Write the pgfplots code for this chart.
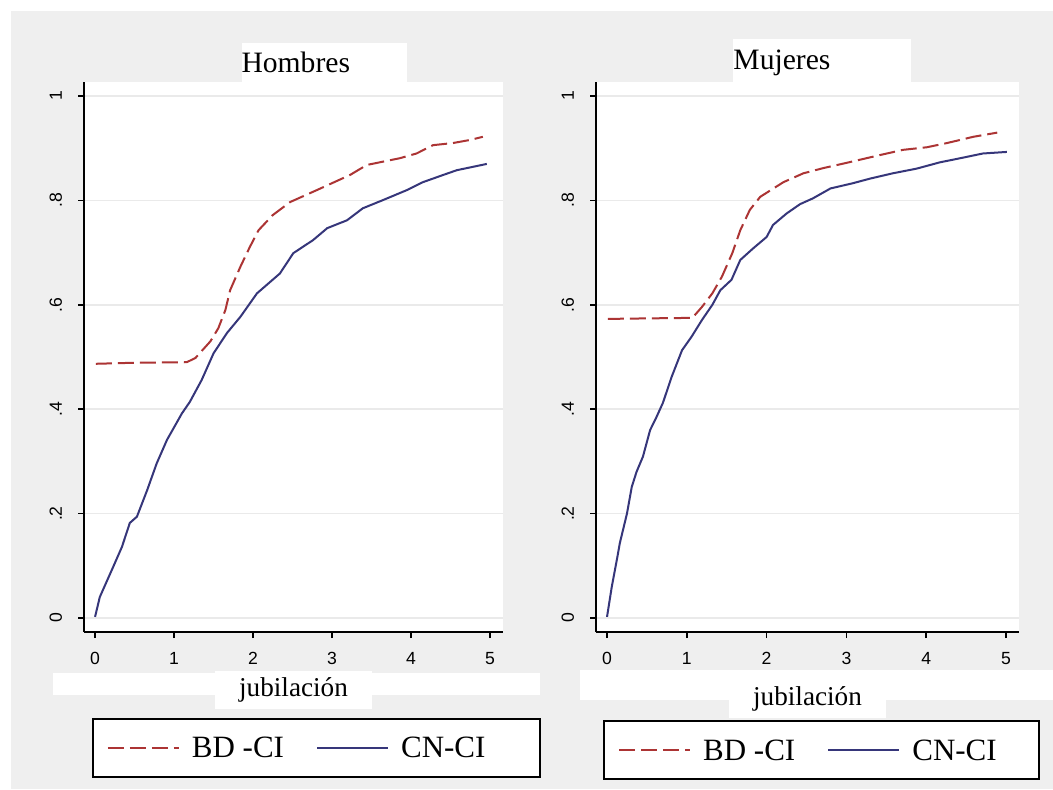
\documentclass[border=0pt]{standalone}
\usepackage{fontspec}
\setmainfont{Liberation Serif}
\setsansfont{Liberation Sans}
\usepackage{pgfplots}
\pgfplotsset{compat=1.18}

\definecolor{bggray}{RGB}{239,239,239}
\definecolor{gridgray}{RGB}{234,234,234}
\definecolor{sred}{RGB}{172,52,52}
\definecolor{snavy}{RGB}{54,54,122}

\pgfplotsset{
  panel/.style={
    scale only axis,
    height=275pt,
    ymin=-0.027, ymax=1.027,
    axis x line*=bottom, axis y line*=left,
    axis line style={line width=1pt},
    axis background/.style={fill=white},
    xtick={0,1,2,3,4,5}, xticklabels={0,1,2,3,4,5},
    ytick={0,0.2,0.4,0.6,0.8,1}, yticklabels={0,.2,.4,.6,.8,1},
    tick align=outside, major tick length=3pt,
    tick style={black, line width=0.8pt},
    ymajorgrids, grid style={gridgray, line width=0.7pt},
    ticklabel style={font=\sffamily\fontsize{8.8}{10}\selectfont},
    y tick label style={rotate=90, anchor=south},
    yticklabel shift=4.5pt, xticklabel shift=3.5pt,
    every axis title shift=0pt,
    xlabel={jubilación},
    xlabel style={font=\fontsize{13.6}{15}\selectfont, fill=white,
      inner xsep=12pt, anchor=base},
    legend columns=2,
    legend cell align=left,
    legend image code/.code={\draw[##1, line width=1pt] (0pt,0pt) -- (35.5pt,0pt);},
    legend style={anchor=north west, draw=black, line width=1pt, fill=white,
      inner xsep=7pt, inner ysep=8.5pt,
      font=\fontsize{15.5}{17}\selectfont,
      nodes={inner sep=0pt, text height=11pt, text depth=1pt},
      /tikz/every odd column/.append style={column sep=6pt},
      /tikz/every even column/.append style={column sep=16pt}},
  },
  bd/.style={sred, line width=1pt, dash pattern=on 8pt off 3pt},
  cn/.style={snavy, line width=1pt},
}

\begin{document}
\begin{tikzpicture}
\path[use as bounding box] (0,0) rectangle (526.5pt,394.5pt);
\begin{scope}[x=0.5pt, y=-0.5pt, shift={(0pt,394.5pt)}]
  \fill[bggray] (11,11) rectangle (1053,789);
  \fill[white] (53,673) rectangle (540,695);
  \fill[white] (580,670) rectangle (1053,700);
\end{scope}

% Hombres
\begin{axis}[panel,
  at={(42pt,78.5pt)}, anchor=south west,
  width=209.5pt,
  xmin=-0.14, xmax=5.165,
  title={Hombres},
  title style={at={(axis description cs:0.375,1)}, anchor=south west, yshift=0pt,
    fill=white, inner sep=0pt, text height=15pt, text depth=4.5pt,
    text width=82.5pt, align=left, font=\fontsize{14.8}{16}\selectfont},
  xlabel style={at={(axis description cs:0.5,-0.118)}},
  legend style={at={(0.019,-0.156)}},
]
\addplot[bd] coordinates {
(0.01,0.487)(0.5,0.489)(1.16,0.490)(1.27,0.498)(1.46,0.530)(1.56,0.555)
(1.65,0.590)(1.71,0.628)(1.84,0.673)(1.96,0.711)(2.07,0.743)(2.25,0.772)
(2.47,0.797)(2.81,0.820)(3.23,0.849)(3.44,0.868)(3.86,0.881)(4.07,0.890)
(4.28,0.906)(4.53,0.910)(4.75,0.916)(4.91,0.922)
};
\addlegendentry{BD -CI}
\addplot[cn] coordinates {
(0.00,0.002)(0.06,0.040)(0.23,0.098)(0.34,0.136)(0.44,0.182)(0.53,0.194)
(0.66,0.245)(0.78,0.296)(0.91,0.341)(1.10,0.392)(1.20,0.414)(1.35,0.456)
(1.50,0.507)(1.67,0.546)(1.84,0.577)(2.05,0.622)(2.34,0.660)(2.51,0.699)
(2.76,0.724)(2.94,0.747)(3.19,0.762)(3.39,0.785)(3.65,0.801)(3.95,0.820)
(4.15,0.835)(4.41,0.849)(4.58,0.858)(4.96,0.870)
};
\addlegendentry{CN-CI\hspace*{20.5pt}}
\end{axis}

% Mujeres
\begin{axis}[panel,
  at={(298pt,78.5pt)}, anchor=south west,
  width=211.5pt,
  xmin=-0.138, xmax=5.163,
  title={Mujeres},
  title style={at={(axis description cs:0.324,1)}, anchor=south west, yshift=0pt,
    fill=white, inner sep=0pt, text height=15.5pt, text depth=6pt,
    text width=89pt, align=left, font=\fontsize{14.8}{16}\selectfont},
  xlabel style={at={(axis description cs:0.5,-0.133)}},
  legend style={at={(0.017,-0.16)}},
]
\addplot[bd] coordinates {
(0.01,0.573)(0.5,0.574)(1.07,0.575)(1.19,0.596)(1.32,0.622)(1.44,0.654)
(1.57,0.699)(1.67,0.743)(1.79,0.782)(1.92,0.807)(2.21,0.835)(2.46,0.852)
(2.71,0.862)(3.00,0.872)(3.42,0.887)(3.71,0.897)(4.01,0.902)(4.26,0.910)
(4.59,0.922)(4.89,0.930)
};
\addlegendentry{BD -CI}
\addplot[cn] coordinates {
(0.00,0.002)(0.06,0.060)(0.13,0.117)(0.16,0.143)(0.25,0.200)(0.31,0.251)
(0.37,0.280)(0.45,0.309)(0.54,0.360)(0.62,0.385)(0.70,0.412)(0.81,0.462)
(0.94,0.513)(1.06,0.539)(1.19,0.571)(1.32,0.600)(1.42,0.628)(1.56,0.648)
(1.67,0.686)(1.83,0.708)(2.00,0.730)(2.08,0.753)(2.25,0.775)(2.42,0.793)
(2.58,0.804)(2.80,0.823)(3.08,0.833)(3.30,0.842)(3.58,0.852)(3.88,0.861)
(4.17,0.873)(4.46,0.882)(4.71,0.890)(5.01,0.893)
};
\addlegendentry{CN-CI\hspace*{14pt}}
\end{axis}
\end{tikzpicture}
\end{document}
